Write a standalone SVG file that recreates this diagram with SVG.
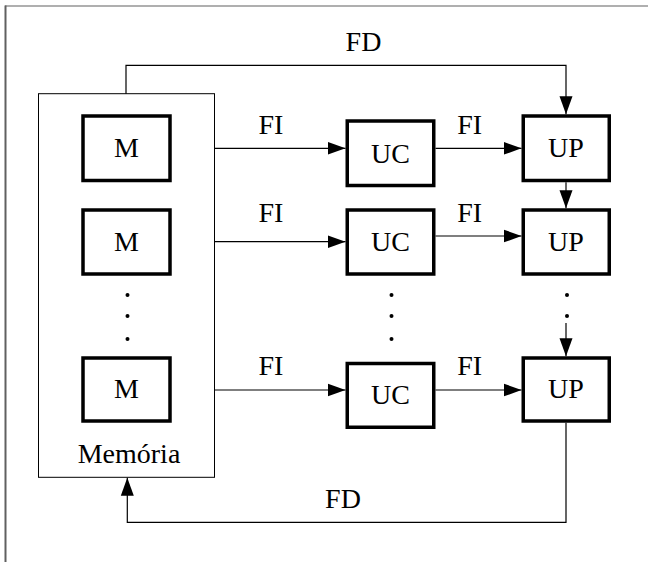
<svg xmlns="http://www.w3.org/2000/svg" width="648" height="562" viewBox="0 0 648 562">
  <style>
    .box { fill: #fff; stroke: #000; stroke-width: 3.5; }
    .mem { fill: #fff; stroke: #000; stroke-width: 1; }
    .lbl { font-family: "Liberation Serif", "Times New Roman", serif; font-size: 28px; fill: #000; text-anchor: middle; }
    .conn { fill: none; stroke: #000; stroke-width: 1.2; marker-end: url(#arr); }
    .line { fill: none; stroke: #000; stroke-width: 1.2; }
    .frame { fill: none; stroke: #606060; }
  </style>
  <defs>
    <marker id="arr" markerUnits="userSpaceOnUse" markerWidth="19" markerHeight="14" refX="18" refY="7" orient="auto">
      <path d="M0,0.5 L18,7 L0,13.5 z" fill="#000"/>
    </marker>
  </defs>
  <rect width="648" height="562" fill="#fff"/>
  <g id="frame">
    <line class="frame" x1="5" y1="6" x2="648" y2="6" stroke-width="1.2"/>
    <line class="frame" x1="5.5" y1="5.5" x2="5.5" y2="562" stroke-width="2"/>
  </g>
  <g id="memoria">
    <rect class="mem" x="38.5" y="93.7" width="176" height="383.6"/>
    <text class="lbl" x="129" y="463.3">Memória</text>
  </g>
  <g id="m1"><rect class="box" x="83" y="116" width="87" height="64.5"/><text class="lbl" x="126.5" y="157">M</text></g>
  <g id="m2"><rect class="box" x="83" y="210" width="87" height="64"/><text class="lbl" x="126.5" y="250.5">M</text></g>
  <g id="m3"><rect class="box" x="83" y="358" width="87" height="63"/><text class="lbl" x="126.5" y="398">M</text></g>
  <g id="uc1"><rect class="box" x="347.25" y="121" width="86.5" height="64.5"/><text class="lbl" x="390.5" y="162.5">UC</text></g>
  <g id="uc2"><rect class="box" x="347.25" y="210" width="86.5" height="64"/><text class="lbl" x="390.5" y="250.5">UC</text></g>
  <g id="uc3"><rect class="box" x="347.25" y="363.5" width="86.5" height="63.75"/><text class="lbl" x="390.5" y="404">UC</text></g>
  <g id="up1"><rect class="box" x="523.25" y="116" width="86" height="64.5"/><text class="lbl" x="566" y="157">UP</text></g>
  <g id="up2"><rect class="box" x="523.25" y="210" width="86" height="64"/><text class="lbl" x="566" y="250.5">UP</text></g>
  <g id="up3"><rect class="box" x="523.25" y="358" width="86" height="63"/><text class="lbl" x="566" y="398">UP</text></g>
  <g id="dots" fill="#000">
    <circle cx="127.5" cy="295" r="2"/><circle cx="127.5" cy="316" r="2"/><circle cx="127.5" cy="339" r="2"/>
    <circle cx="391.5" cy="295" r="2"/><circle cx="391.5" cy="316" r="2"/><circle cx="391.5" cy="339" r="2"/>
    <circle cx="567" cy="295" r="2"/><circle cx="567" cy="316" r="2"/>
  </g>
  <g id="connectors">
    <path class="conn" d="M126,93.7 V65.3 H566 V114.3"/>
    <path class="conn" d="M214.5,148.3 H345.5"/>
    <path class="conn" d="M435.5,148.3 H521.5"/>
    <path class="conn" d="M566,182.3 V208.3"/>
    <path class="conn" d="M214.5,241.7 H345.5"/>
    <path class="conn" d="M435.5,236 H521.5"/>
    <path class="conn" d="M566,323 V356.3"/>
    <path class="conn" d="M214.5,390 H345.5"/>
    <path class="conn" d="M435.5,390 H521.5"/>
    <path class="conn" d="M566,422.7 V522.3 H127.3 V477.8"/>
  </g>
  <g id="labels">
    <text class="lbl" x="363.5" y="51">FD</text>
    <text class="lbl" x="271" y="134">FI</text>
    <text class="lbl" x="469.7" y="134">FI</text>
    <text class="lbl" x="271" y="221.7">FI</text>
    <text class="lbl" x="469.7" y="221.7">FI</text>
    <text class="lbl" x="271" y="375">FI</text>
    <text class="lbl" x="469.7" y="375">FI</text>
    <text class="lbl" x="343" y="508.3">FD</text>
  </g>
</svg>
